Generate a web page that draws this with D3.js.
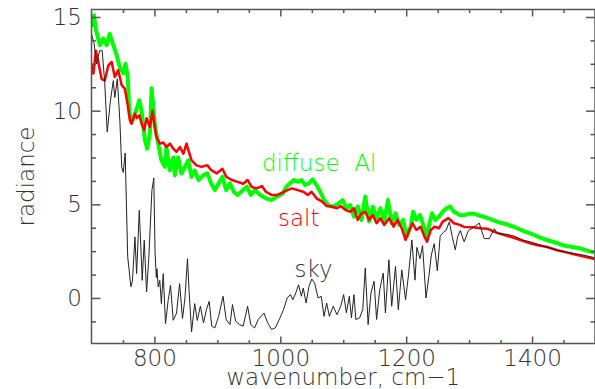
<!DOCTYPE html>
<html>
<head>
<meta charset="utf-8">
<script src="https://cdn.jsdelivr.net/npm/d3@7"></script>
<style>
  body { margin: 0; background: #fff; }
  .line { fill: none; stroke-linejoin: round; }
  .axis text { font-family: "DejaVu Sans", sans-serif; font-weight: 200; font-size: 23px; fill: #333; }
  .axis line { stroke: #555; stroke-width: 1.5; }
  .label { font-family: "DejaVu Sans", sans-serif; font-weight: 200; font-size: 23px; white-space: pre; }
</style>
</head>
<body>
<div id="graph"></div>
<script>
// spectra: [wavenumber, radiance]
var sky = [
  [700,14.1],[704,13.6],[708,12.5],[713,13.2],[717,13.2],[721,11.5],[725,8.86],[730,10.5],
  [734.6,11.6],[737,10.7],[741,11.7],[745,9.5],[748,7.0],[750.5,6.7],[753.5,7.74],[757.5,2.2],
  [762.6,0.6],[765,0.9],[769,3.26],[771.7,1.3],[775.9,4.68],[780.6,0.94],[783.8,3.08],[787.5,0.32],
  [791,2.1],[796,5.75],[799,6.4],[801,2.4],[803,1.1],[804,1.56],[806,0.59],[808.5,0.94],
  [811,-0.3],[814,1.3],[817.6,-1.37],[821.8,-0.12],[825.6,0.68],[829.8,-1.19],[835,-0.83],[840,0.77],
  [844.6,-1.1],[848.5,0.0],[852.5,2.1],[855,0.4],[859,-1.81],[864,-0.3],[868,-1.2],[873,-0.44],
  [878,-1.33],[882.6,-0.62],[887,-0.18],[891,-1.5],[896,-1.6],[902,-0.98],[909,0.09],[914,-1.15],
  [920,-1.42],[924,-0.35],[929,-1.24],[935,-1.42],[941,-1.5],[948,-0.44],[953,-1.42],[959,-1.6],
  [965,-1.15],[974,-0.8],[980,-1.33],[986,-1.68],[992,-1.6],[999.6,-1.06],[1005,-0.62],[1011,0.0],
  [1016,0.18],[1020,-0.09],[1024.6,0.27],[1029,0.71],[1033.5,0.09],[1036.5,0.53],[1041,-0.27],[1045.5,0.62],
  [1050,1.01],[1054.5,0.8],[1060,0.0],[1065,0.09],[1069.5,-0.98],[1073.6,-0.27],[1078,-0.98],[1084,-0.44],
  [1090,-0.89],[1096,-0.44],[1100.6,0.18],[1105,-0.8],[1109.6,0.09],[1113,-1.06],[1117,0.18],[1120,-1.15],
  [1126,-1.06],[1131,-0.62],[1135,1.6],[1139.5,-1.42],[1144,0.27],[1149,0.89],[1153,-1.15],[1158,0.44],
  [1163.5,1.33],[1167,-0.8],[1172.5,2.04],[1177,-0.44],[1183,1.68],[1187.5,-0.62],[1193,1.5],[1199,-0.09],
  [1204,1.33],[1209,3.1],[1214,0.95],[1217,2.7],[1222,2.1],[1226,2.8],[1231.5,0.0],[1236,1.15],
  [1240,2.3],[1244.5,2.9],[1249.5,1.45],[1254,3.3],[1259,3.5],[1263,3.6],[1268.6,4.06],[1273,3.3],
  [1278,2.57],[1282,3.3],[1286,3.6],[1292,3.0],[1299,3.6],[1308,3.79],[1316,4.0],[1324,3.17],
  [1332,3.17],[1340,3.7],[1345,3.44],[1360,3.4],[1372,3.3],[1385,3.1],[1398,2.99],[1420,2.75],
  [1440,2.55],[1460,2.42],[1480,2.3],[1500,2.15]
];

var diffuseAl = [
  [700,14.47],[704,15.09],[707,14.3],[713.5,13.5],[718.7,13.85],[724,13.5],[729,14.1],[734.6,13.5],
  [740,12.96],[745,12.3],[750.5,12.0],[754,12.5],[757.6,11.8],[760,10.0],[763.5,9.4],[767,9.6],
  [771.7,10.1],[775.9,10.55],[779.6,10.0],[784.9,8.42],[788.6,7.97],[792.8,8.8],[795.5,11.2],[798,10.3],
  [800.7,9.2],[806,8.24],[811,7.35],[816.6,7.0],[819,8.06],[824.5,6.82],[830,7.5],[832.4,6.55],
  [837.7,7.5],[843,6.64],[848.5,7.0],[853.8,7.35],[859,6.46],[864,6.8],[870,6.3],[878,6.56],
  [884,6.65],[890,6.12],[896,5.76],[902,6.12],[908,6.47],[914,5.76],[920,6.12],[926,5.67],
  [932,5.5],[941,5.76],[947,5.94],[953,5.5],[960,5.76],[968,5.5],[977,5.32],[986,5.23],
  [995,5.41],[1003.6,5.58],[1009.6,5.94],[1015.6,6.12],[1021.6,6.3],[1027.5,6.2],[1033.5,6.3],[1039.5,6.03],
  [1045.5,6.12],[1051.5,6.33],[1057.5,6.03],[1063.5,5.67],[1069.5,5.23],[1075.5,4.96],[1084,4.88],[1093,5.05],
  [1099,5.23],[1105,4.79],[1111,4.96],[1117,4.34],[1123,4.88],[1129,4.17],[1135,5.41],[1141,4.08],
  [1147,4.88],[1153,4.26],[1159,4.79],[1165,4.08],[1171,5.23],[1177,3.99],[1183,4.52],[1189,3.9],
  [1195,4.17],[1201,3.28],[1207,3.81],[1211,4.6],[1216,4.17],[1222,4.43],[1228,3.81],[1233,3.28],
  [1237,3.99],[1241,4.52],[1246,4.17],[1252,4.34],[1258,4.6],[1264,4.79],[1270,4.88],[1276,4.6],
  [1285,4.43],[1292,4.42],[1300,4.5],[1308,4.5],[1316,4.4],[1324,4.33],[1335,4.2],[1345,4.06],
  [1358,3.95],[1372,3.79],[1385,3.6],[1398,3.44],[1411,3.25],[1424.5,3.08],[1438,2.95],[1451,2.8],
  [1464,2.72],[1477.5,2.64],[1490,2.5],[1500,2.42]
];

var salt = [
  [700,12.5],[703,11.98],[707,13.2],[710.8,12.6],[716,11.7],[721,11.6],[726.6,12.4],[732,12.6],
  [737,11.8],[742.5,12.16],[748,11.36],[753,11.18],[758,10.2],[761,9.49],[763.5,9.3],[769,9.84],
  [772,9.6],[776,9.75],[779.6,9.3],[783.7,8.95],[787.5,9.6],[792.8,9.13],[797,10.0],[799,9.5],
  [803,8.6],[808.6,8.24],[814,8.3],[819,8.06],[824.6,8.24],[830,7.97],[835,7.8],[840.6,8.06],
  [846,7.7],[851,8.24],[853.8,7.9],[859,7.35],[866.8,7.08],[875,7.0],[884,7.09],[890,6.83],
  [899,6.65],[908,6.9],[914,6.47],[923,6.3],[932,6.2],[941,6.1],[948,6.3],[954,5.94],
  [962,5.85],[971,5.97],[977,5.67],[986,5.5],[995,5.5],[1003.6,5.62],[1011,5.76],[1018.6,5.85],
  [1027.5,5.76],[1036.5,5.67],[1043.7,5.5],[1049.7,5.67],[1057.5,5.32],[1066.5,5.14],[1073.6,4.91],[1081,4.88],
  [1090,4.79],[1096,4.91],[1103.6,4.7],[1111,4.6],[1117,4.79],[1123,4.17],[1129,4.52],[1135,4.6],
  [1141,4.17],[1147,4.43],[1153,3.99],[1159,4.26],[1165,3.9],[1173,4.26],[1180,3.81],[1186,4.17],
  [1193,3.72],[1199,3.1],[1204,3.55],[1210,3.99],[1216,3.63],[1223,3.8],[1229,3.28],[1233,3.0],
  [1239,3.63],[1245,3.8],[1252,3.72],[1258,4.08],[1267,4.26],[1276,3.99],[1285,3.9],[1292,3.79],
  [1306,3.78],[1318,3.72],[1329,3.7],[1342,3.5],[1357,3.35],[1372,3.2],[1385,3.05],[1398,2.9],
  [1411,2.8],[1424,2.72],[1440,2.55],[1456,2.42],[1470,2.3],[1484,2.2],[1496,2.1],[1500,2.07]
];

// tick values
var xMajor = [800, 1000, 1200, 1400];
var xMinor = [750, 850, 900, 950, 1050, 1100, 1150, 1250, 1300, 1350, 1450];
var yMajor = [0, 5, 10, 15];
var yMinor = [-1.25, 1.25, 2.5, 3.75, 6.25, 7.5, 8.75, 11.25, 12.5, 13.75];

// set the dimensions and margins of the graph
var svg = d3.select('#graph').append("svg")
  .attr('width', 595)
  .attr('height', 389);
var margin = {top: 9.5, right: 0, bottom: 45.5, left: 91.5},
  width = 595 - margin.left - margin.right,
  height = 389 - margin.top - margin.bottom,
  g = svg.append("g").attr("transform", "translate(" + margin.left + "," + margin.top + ")");

// set the ranges
var x = d3.scaleLinear().domain([700, 1500]).range([0, width]);
var y = d3.scaleLinear().domain([-2.43, 15.4]).range([height, 0]);

var line = d3.line()
  .x(function(d) { return x(d[0]); })
  .y(function(d) { return y(d[1]); });

g.append("clipPath").attr("id", "clip")
  .append("rect").attr("width", width).attr("height", height);

var plot = g.append("g").attr("clip-path", "url(#clip)");

plot.append("path").datum(diffuseAl).attr("class", "line")
  .attr("stroke", "#00ff00").attr("stroke-width", 4).attr("d", line);
plot.append("path").datum(salt).attr("class", "line")
  .attr("stroke", "#ff0000").attr("stroke-width", 2.5).attr("d", line);
plot.append("path").datum(sky).attr("class", "line")
  .attr("stroke", "#222").attr("stroke-width", 1).attr("d", line);

// axes, ticks pointing inwards
function clean(sel) { sel.select(".domain").remove(); }

g.append("g").attr("class", "axis").attr("transform", "translate(0," + height + ")")
  .call(d3.axisBottom(x).tickValues(xMajor).tickSize(-7).tickPadding(6).tickFormat(d3.format("d")))
  .call(clean);
g.append("g").attr("class", "axis").attr("transform", "translate(0," + height + ")")
  .call(d3.axisBottom(x).tickValues(xMinor).tickSize(-3.5).tickFormat(""))
  .call(clean);
g.append("g").attr("class", "axis")
  .call(d3.axisTop(x).tickValues(xMajor).tickSize(-7).tickFormat(""))
  .call(clean);
g.append("g").attr("class", "axis")
  .call(d3.axisTop(x).tickValues(xMinor).tickSize(-3.5).tickFormat(""))
  .call(clean);

g.append("g").attr("class", "axis")
  .call(d3.axisLeft(y).tickValues(yMajor).tickSize(-9).tickPadding(9.5).tickFormat(d3.format("d")))
  .call(clean);
g.append("g").attr("class", "axis")
  .call(d3.axisLeft(y).tickValues(yMinor).tickSize(-4.5).tickFormat(""))
  .call(clean);
g.append("g").attr("class", "axis").attr("transform", "translate(" + width + ",0)")
  .call(d3.axisRight(y).tickValues(yMajor).tickSize(-9).tickFormat(""))
  .call(clean);
g.append("g").attr("class", "axis").attr("transform", "translate(" + width + ",0)")
  .call(d3.axisRight(y).tickValues(yMinor).tickSize(-4.5).tickFormat(""))
  .call(clean);

// frame
g.append("rect").attr("width", width).attr("height", height)
  .attr("fill", "none").attr("stroke", "#555").attr("stroke-width", 1.5);

// axis titles
svg.append("text").attr("class", "label")
  .attr("x", margin.left + width / 2).attr("y", 385)
  .attr("text-anchor", "middle").attr("fill", "#333")
  .text("wavenumber, cm\u22121");
svg.append("text").attr("class", "label")
  .attr("transform", "translate(34," + (margin.top + height / 2) + ") rotate(-90)")
  .attr("text-anchor", "middle").attr("fill", "#333")
  .text("radiance");

// curve labels
svg.append("text").attr("class", "label").attr("x", 262).attr("y", 170.5)
  .attr("fill", "#00ff00").text("diffuse  Al");
svg.append("text").attr("class", "label").attr("x", 278).attr("y", 225.5)
  .attr("fill", "#ff0000").text("salt");
svg.append("text").attr("class", "label").attr("x", 294.5).attr("y", 276.5)
  .attr("fill", "#333").text("sky");
</script>
</body>
</html>
